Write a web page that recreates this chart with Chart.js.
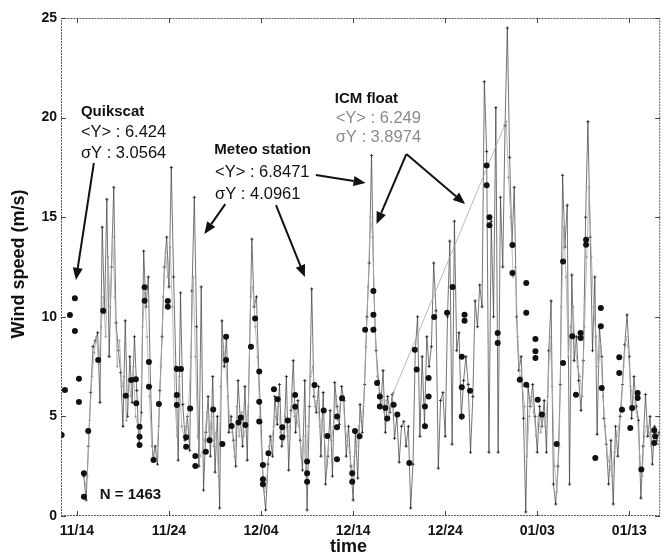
<!DOCTYPE html>
<html>
<head>
<meta charset="utf-8">
<script src="https://cdn.jsdelivr.net/npm/chart.js@4.4.1/dist/chart.umd.min.js"></script>
<style>
  html, body { margin: 0; padding: 0; background: #fff; }
  canvas { display: block; }
</style>
</head>
<body>
<canvas id="windChart" width="665" height="557"></canvas>
<script>
// x values are days since 11/14
const xTickDays = [0, 10, 20, 30, 40, 50, 60]
const xTickLabels = ['11/14', '11/24', '12/04', '12/14', '12/24', '01/03', '01/13']
const yTickValues = [0, 5, 10, 15, 20, 25]

// meteo station, one value every 6 h starting at day 0.75
const meteoStart = 0.75
const meteoStep = 0.25
const meteoValues = [
  2.0,
  0.8, 3.5, 6.2, 8.5,
  8.8, 9.2, 5.7, 14.5,
  10.2, 15.9, 8.0, 12.5,
  16.5, 9.7, 8.3, 7.2,
  4.5, 9.8, 5.0, 8.0,
  5.7, 9.0, 6.3, 3.5,
  5.2, 13.3, 10.5, 12.0,
  6.5, 2.8, 3.5, 2.6,
  6.3, 9.0, 12.5, 14.0,
  11.5, 17.5, 12.0, 7.5,
  2.8, 11.2, 5.6, 3.8,
  5.0, 3.3, 11.3, 16.0,
  9.5, 2.5, 11.5, 1.3,
  4.2, 6.0, 3.0, 7.0,
  2.2, 5.0, 0.4, 9.8,
  7.5, 9.0, 4.2, 5.0,
  3.8, 2.5, 6.8, 4.8,
  3.5, 6.5, 2.8, 8.5,
  13.9, 10.5, 11.0, 7.2,
  4.7, 1.5, 0.3, 2.6,
  4.0, 3.0, 6.0, 4.6,
  6.6, 3.5, 4.0, 7.0,
  2.3, 5.3, 7.8, 4.2,
  5.8, 3.8, 2.3, 6.8,
  0.3, 5.5, 11.4, 6.0,
  5.2, 6.5, 3.0, 6.2,
  1.6, 3.0, 5.3, 2.0,
  6.7, 5.5, 4.6, 6.5,
  5.8, 3.0, 4.5, 2.5,
  0.8, 4.2, 1.9, 5.6,
  4.2, 6.6, 10.0, 12.7,
  18.1, 11.3, 8.3, 6.8,
  5.5, 7.3, 4.2, 6.0,
  5.2, 6.1, 3.9, 5.0,
  2.7, 4.5, 4.75, 3.5,
  4.5, 0.4, 2.6, 8.3,
  10.0, 4.0, 8.0, 4.6,
  9.0, 7.5, 8.5, 12.7,
  10.3, 2.4, 5.8, 6.2,
  4.0, 10.0, 13.8, 3.6,
  14.8, 8.3, 9.2, 4.9,
  6.8, 8.0, 6.6, 3.2,
  6.0, 10.8, 9.5, 11.6,
  10.5, 21.8, 18.3, 3.2,
  14.8, 10.0, 20.5, 3.2,
  16.0, 12.5, 19.6, 24.5,
  18.0, 13.6, 16.5, 10.0,
  7.3, 8.0, 4.9, 0.2,
  6.5, 5.5, 6.6, 5.0,
  3.2, 5.5, 4.5, 5.8,
  3.2, 8.3, 10.8, 1.6,
  0.6, 2.5, 6.6, 17.1,
  13.5, 15.6, 1.6, 12.1,
  7.8, 9.0, 6.8, 5.3,
  7.8, 15.0, 19.8, 14.0,
  8.3, 12.0, 4.1, 9.5,
  8.0, 4.9, 3.6, 1.6,
  3.8, 0.6, 4.5, 3.0,
  5.0, 6.6, 8.6, 10.1,
  8.0, 4.9, 7.0, 5.5,
  4.8, 0.9, 3.5, 6.1,
  4.0, 5.0, 2.6, 4.5,
  3.8, 4.2
]

// ICM float, every 6 h, two parts with a data gap in between
const icmStartA = 0.875
const icmStartB = 46.625
const icmStep = 0.25
const icmValuesA = [
  1.5, 2.0, 4.8, 7.0,
  8.2, 9.0, 7.6, 9.5,
  11.0, 9.0, 13.0, 10.5,
  14.0, 11.0, 7.5, 8.8,
  6.5, 7.0, 4.8, 6.8,
  6.0, 7.5, 5.0, 4.5,
  4.0, 9.5, 11.2, 9.0,
  6.0, 3.5, 3.0, 2.8,
  4.5, 7.5, 11.0, 13.2,
  12.0, 13.5, 10.5, 6.0,
  4.0, 7.0, 4.5, 4.0,
  4.5, 5.5, 8.0, 12.0,
  8.0, 4.0, 3.0, 3.2,
  3.8, 5.2, 4.0, 5.0,
  3.5, 4.2, 2.0, 6.5,
  8.5, 8.0, 6.0, 4.8,
  4.2, 3.0, 5.5, 4.0,
  5.2, 4.0, 4.5, 5.5,
  11.0, 11.5, 9.5, 8.0,
  5.0, 2.5, 1.2, 1.8,
  3.5, 3.8, 4.5, 5.0,
  5.5, 4.2, 3.8, 5.0,
  4.0, 4.5, 6.0, 5.0,
  4.8, 4.5, 3.0, 4.0,
  2.0, 4.5, 7.0, 7.5,
  5.5, 5.8, 4.5, 4.8,
  4.0, 2.5, 4.0, 3.8,
  4.5, 6.0, 4.8, 5.8,
  6.0, 4.5, 3.8, 3.2,
  1.8, 3.0, 3.5, 4.5,
  5.0, 5.5, 8.5, 11.5,
  15.0, 14.0, 9.5, 7.0,
  6.2, 6.0, 5.2, 5.8,
  5.0, 5.5, 6.2
]
const icmValuesB = [
  19.8, 17.0, 15.0, 12.0,
  12.5, 9.0, 7.0, 6.5,
  5.5, 3.0, 5.0, 6.0,
  5.2, 4.0, 5.0, 4.2,
  5.0, 4.5, 6.0, 9.0,
  6.5, 2.5, 1.2, 3.5,
  10.5, 14.5, 12.0, 8.0,
  9.5, 10.5, 8.5, 7.5,
  7.0, 6.0, 9.5, 13.0,
  16.5, 13.0, 10.5, 9.0,
  7.5, 8.5, 6.0, 4.5,
  3.0, 2.5, 2.0, 3.2,
  4.0, 4.5, 5.5, 7.5,
  9.0, 8.5, 6.5, 6.0,
  5.5, 5.0, 3.0, 2.0,
  4.0, 4.5, 4.2, 3.5,
  3.8, 4.2, 3.6
]

// Quikscat passes
const quikscatDays = [
  -1.66, -1.30, -0.76, -0.22, -0.22, 0.22, 0.22, 0.76, 0.76, 1.23,
  2.31, 2.85, 5.3, 5.9, 6.4, 6.45, 6.8, 6.8, 6.8, 7.35,
  7.35, 7.82, 7.82, 8.32, 8.9, 9.87, 9.87, 10.85, 10.85, 10.85,
  11.3, 11.86, 11.86, 12.3, 12.86, 12.86, 14.0, 14.4, 14.8, 15.8,
  16.2, 16.2, 16.8, 17.55, 17.8, 18.3, 18.9, 19.35, 19.8, 19.8,
  19.8, 20.2, 20.2, 20.2, 20.8, 21.4, 21.8, 22.3, 22.3, 22.9,
  23.7, 23.7, 25.0, 25.0, 25.0, 25.8, 26.8, 27.2, 28.25, 28.25,
  28.25, 28.8, 29.9, 29.9, 30.2, 30.7, 31.3, 32.2, 32.2, 32.2,
  32.6, 32.9, 32.9, 33.5, 33.7, 34.4, 34.8, 36.1, 36.7, 36.9,
  37.8, 37.8, 38.2, 38.2, 38.8, 40.2, 40.8, 41.8, 41.8, 41.8,
  42.1, 42.1, 42.7, 44.5, 44.5, 44.8, 44.8, 45.7, 45.7, 47.3,
  47.3, 48.1, 48.8, 48.8, 48.8, 49.8, 49.8, 49.8, 50.05, 50.5,
  52.1, 52.8, 52.8, 53.8, 54.2, 54.7, 54.7, 55.3, 55.3, 56.3,
  56.9, 56.9, 57.0, 58.9, 58.9, 59.2, 60.1, 60.3, 60.9, 60.9,
  61.3, 62.7, 62.7, 62.8
]
const quikscatValues = [
  4.07, 6.33, 10.09, 10.93, 9.29, 6.89, 5.72, 2.14, 0.97, 4.27,
  7.83, 10.3, 6.04, 6.83, 6.86, 5.66, 4.48, 3.98, 3.56, 11.48,
  10.81, 7.73, 6.49, 2.81, 5.62, 10.79, 10.5, 7.38, 6.07, 5.57,
  7.38, 3.95, 3.48, 5.4, 3.01, 2.51, 3.23, 3.8, 5.35, 3.61,
  9.0, 7.83, 4.52, 4.69, 4.95, 4.57, 8.5, 9.92, 7.25, 5.74,
  4.74, 2.56, 1.84, 1.6, 3.15, 6.36, 5.86, 4.45, 3.95, 4.79,
  5.49, 6.07, 2.73, 2.14, 1.72, 6.58, 5.29, 4.02, 4.99, 4.45,
  2.85, 5.91, 2.14, 1.72, 4.27, 4.0, 9.35, 11.3, 10.1, 9.35,
  6.68, 6.0, 5.5, 5.42, 4.9, 5.59, 5.09, 2.66, 8.35, 7.35,
  5.5, 4.5, 6.93, 6.0, 9.99, 10.2, 11.5, 8.0, 6.46, 5.0,
  10.1, 9.8, 6.29, 17.6, 16.6, 15.0, 14.6, 9.19, 8.68, 13.6,
  12.2, 6.84, 11.7, 10.2, 6.59, 8.89, 8.27, 7.93, 5.84, 5.09,
  3.61, 12.78, 7.68, 9.02, 6.09, 9.19, 8.94, 13.62, 13.87, 2.91,
  10.44, 9.52, 6.43, 7.97, 7.18, 5.34, 4.42, 5.42, 6.17, 5.92,
  2.33, 4.3, 3.66, 4.0
]

const FONT = 'Liberation Sans, Arial, Helvetica, sans-serif'

// build {x,y} points
const meteoPoints = meteoValues.map((v, i) => ({ x: meteoStart + i * meteoStep, y: v }))
const icmPoints = icmValuesA.map((v, i) => ({ x: icmStartA + i * icmStep, y: v }))
  .concat(icmValuesB.map((v, i) => ({ x: icmStartB + i * icmStep, y: v })))
const quikscatPoints = quikscatDays.map((d, i) => ({ x: d, y: quikscatValues[i] }))

// annotation layout (day, speed) - anchors for text and arrows
const notes = [
  { text: 'Quikscat', x: 0.43, y: 20.28, bold: true, color: '#111' },
  { text: '<Y> : 6.424', x: 0.43, y: 19.23, color: '#111' },
  { text: '\u03c3Y : 3.0564', x: 0.43, y: 18.22, color: '#111' },
  { text: 'Meteo station', x: 14.92, y: 18.37, bold: true, color: '#111' },
  { text: '<Y> : 6.8471', x: 15.0, y: 17.27, color: '#111' },
  { text: '\u03c3Y : 4.0961', x: 15.0, y: 16.16, color: '#111' },
  { text: 'ICM float', x: 28.0, y: 20.93, bold: true, color: '#111' },
  { text: '<Y> : 6.249', x: 28.1, y: 19.98, color: '#8a8a8a' },
  { text: '\u03c3Y : 3.8974', x: 28.1, y: 18.98, color: '#8a8a8a' },
  { text: 'N = 1463', x: 2.49, y: 1.05, bold: true, color: '#111', size: 15 }
]
const arrows = [
  [1.84, 17.72, -0.11, 11.85],
  [16.11, 15.66, 13.84, 14.16],
  [21.62, 15.61, 24.76, 12.0],
  [25.95, 17.12, 31.35, 16.72],
  [35.78, 18.17, 32.54, 14.66],
  [35.78, 18.17, 42.16, 15.66]
]

function drawArrow(ctx, x1, y1, x2, y2) {
  const ang = Math.atan2(y2 - y1, x2 - x1)
  const len = 12, half = 5
  const bx = x2 - Math.cos(ang) * len
  const by = y2 - Math.sin(ang) * len
  ctx.beginPath()
  ctx.moveTo(x1, y1)
  ctx.lineTo(bx, by)
  ctx.stroke()
  ctx.beginPath()
  ctx.moveTo(x2, y2)
  ctx.lineTo(bx + Math.sin(ang) * half, by - Math.cos(ang) * half)
  ctx.lineTo(bx - Math.sin(ang) * half, by + Math.cos(ang) * half)
  ctx.closePath()
  ctx.fill()
}

// frame, inward ticks, axis titles and the text notes
const decorations = {
  id: 'decorations',
  afterDraw(chart) {
    const { ctx, chartArea: a, scales: { x, y } } = chart
    ctx.save()

    // box
    ctx.strokeStyle = '#555'
    ctx.lineWidth = 1
    ctx.setLineDash([2, 1])
    ctx.strokeRect(a.left + 0.5, a.top + 0.5, a.right - a.left - 1, a.bottom - a.top - 1)
    ctx.setLineDash([])

    // tick marks pointing inward on all four sides
    ctx.strokeStyle = '#444'
    xTickDays.forEach(d => {
      const px = Math.round(x.getPixelForValue(d)) + 0.5
      ctx.beginPath()
      ctx.moveTo(px, a.bottom); ctx.lineTo(px, a.bottom - 5)
      ctx.moveTo(px, a.top); ctx.lineTo(px, a.top + 5)
      ctx.stroke()
    })
    yTickValues.forEach(v => {
      const py = Math.round(y.getPixelForValue(v)) + 0.5
      ctx.beginPath()
      ctx.moveTo(a.left, py); ctx.lineTo(a.left + 5, py)
      ctx.moveTo(a.right, py); ctx.lineTo(a.right - 5, py)
      ctx.stroke()
    })

    // axis titles
    ctx.fillStyle = '#111'
    ctx.font = 'bold 18px ' + FONT
    ctx.textAlign = 'center'
    ctx.textBaseline = 'middle'
    ctx.fillText('time', (a.left + a.right) / 2 - 12, 547)
    ctx.save()
    ctx.translate(19, 264)
    ctx.rotate(-Math.PI / 2)
    ctx.fillText('Wind speed (m/s)', 0, 0)
    ctx.restore()

    // notes
    ctx.textAlign = 'left'
    notes.forEach(n => {
      const size = n.size || (n.bold ? 15 : 16.5)
      ctx.font = (n.bold ? 'bold ' : '') + size + 'px ' + FONT
      ctx.fillStyle = n.color
      ctx.fillText(n.text, x.getPixelForValue(n.x), y.getPixelForValue(n.y))
    })

    // arrows
    ctx.strokeStyle = '#111'
    ctx.fillStyle = '#111'
    ctx.lineWidth = 2
    arrows.forEach(([d1, v1, d2, v2]) => {
      drawArrow(ctx, x.getPixelForValue(d1), y.getPixelForValue(v1),
        x.getPixelForValue(d2), y.getPixelForValue(v2))
    })
    ctx.restore()
  }
}

const tickFont = { family: FONT, size: 14, weight: 'bold' }

new Chart(document.getElementById('windChart').getContext('2d'), {
  type: 'line',
  data: {
    datasets: [
      {
        label: 'Quikscat',
        data: quikscatPoints,
        showLine: false,
        pointStyle: 'circle',
        pointRadius: 3,
        pointBackgroundColor: '#111',
        pointBorderWidth: 0
      },
      {
        label: 'ICM float',
        data: icmPoints,
        borderColor: '#a8a8a8',
        borderWidth: 0.8,
        pointStyle: 'cross',
        pointRadius: 1.4,
        pointBorderColor: '#999',
        pointBorderWidth: 0.8,
        tension: 0,
        fill: false
      },
      {
        label: 'Meteo station',
        data: meteoPoints,
        borderColor: '#3a3a3a',
        borderWidth: 0.7,
        pointStyle: 'cross',
        pointRadius: 1.6,
        pointBorderColor: '#222',
        pointBorderWidth: 0.8,
        tension: 0,
        fill: false
      }
    ]
  },
  options: {
    responsive: false,
    animation: false,
    devicePixelRatio: 1,
    layout: { padding: { top: 18, right: 2, left: 0, bottom: 0 } },
    plugins: {
      legend: { display: false },
      tooltip: { enabled: false }
    },
    scales: {
      x: {
        type: 'linear',
        min: -1.73,
        max: 63.35,
        grid: { display: false, drawTicks: false },
        border: { display: false },
        afterBuildTicks: scale => { scale.ticks = xTickDays.map(v => ({ value: v })) },
        afterFit: scale => { scale.height = 41 },
        ticks: {
          font: tickFont,
          color: '#111',
          padding: 7,
          maxRotation: 0,
          autoSkip: false,
          callback: (v, i) => xTickLabels[i]
        }
      },
      y: {
        min: 0,
        max: 25,
        grid: { display: false, drawTicks: false },
        border: { display: false },
        afterBuildTicks: scale => { scale.ticks = yTickValues.map(v => ({ value: v })) },
        afterFit: scale => { scale.width = 61 },
        ticks: { font: tickFont, color: '#111', padding: 4 }
      }
    }
  },
  plugins: [decorations]
})
</script>
</body>
</html>
